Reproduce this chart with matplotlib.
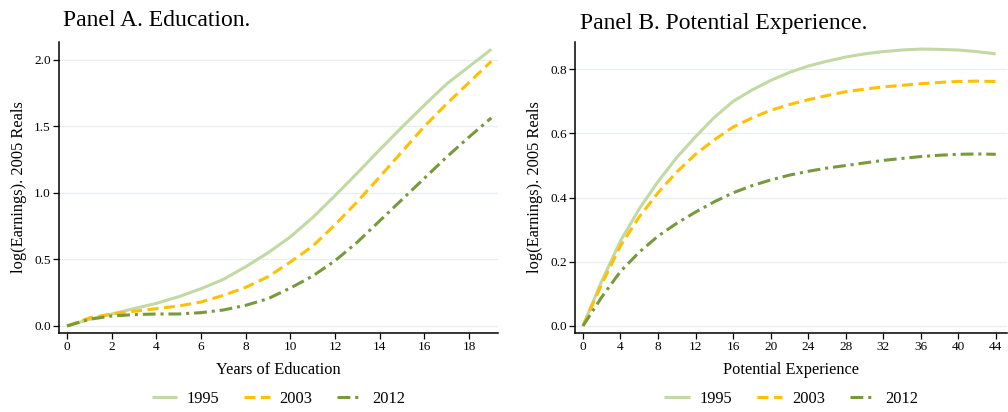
import matplotlib
matplotlib.use("Agg")
import matplotlib.pyplot as plt
import numpy as np

plt.rcParams['font.family'] = ['Liberation Serif', 'DejaVu Serif']

# Panel A: Years of education
educ_years = list(range(0, 20))
educ_1995 = [0.0, 0.05, 0.09, 0.13, 0.17, 0.22, 0.28, 0.35, 0.445, 0.55, 0.67, 0.815, 0.98, 1.15, 1.325, 1.495, 1.66, 1.82, 1.95, 2.08]
educ_2003 = [0.0, 0.06, 0.09, 0.11, 0.13, 0.15, 0.18, 0.23, 0.29, 0.37, 0.48, 0.60, 0.76, 0.935, 1.12, 1.31, 1.50, 1.67, 1.83, 1.99]
educ_2012 = [0.0, 0.05, 0.075, 0.085, 0.09, 0.09, 0.10, 0.12, 0.155, 0.205, 0.285, 0.375, 0.49, 0.63, 0.79, 0.95, 1.11, 1.27, 1.42, 1.565]

# Panel B: Potential experience
exp_years = list(range(0, 45, 2))
exp_1995 = [0.0, 0.14, 0.265, 0.365, 0.45, 0.525, 0.59, 0.65, 0.70, 0.735, 0.765, 0.79, 0.81, 0.825, 0.838, 0.848, 0.855, 0.86, 0.863, 0.862, 0.86, 0.855, 0.848]
exp_2003 = [0.0, 0.13, 0.25, 0.34, 0.415, 0.48, 0.535, 0.58, 0.62, 0.648, 0.672, 0.69, 0.705, 0.718, 0.73, 0.738, 0.745, 0.75, 0.755, 0.759, 0.762, 0.763, 0.762]
exp_2012 = [0.0, 0.09, 0.17, 0.23, 0.28, 0.32, 0.355, 0.387, 0.415, 0.437, 0.455, 0.47, 0.482, 0.492, 0.50, 0.508, 0.516, 0.522, 0.528, 0.532, 0.535, 0.536, 0.535]

years = ['1995', '2003', '2012']
colors = ['#c2d9a3', '#ffc000', '#789a3c']
styles = ['-', (0, (3.6, 1.8)), (0, (4.2, 1.6, 1.0, 1.6))]

fig = plt.figure(figsize=(10.08, 4.12), dpi=100)
axA = fig.add_axes([59/1008, 79/412, 439/1008, 291/412])
axB = fig.add_axes([575/1008, 79/412, 432/1008, 291/412])

def style_ax(ax):
    for s in ['top', 'right']:
        ax.spines[s].set_visible(False)
    for s in ['left', 'bottom']:
        ax.spines[s].set_color('black')
        ax.spines[s].set_linewidth(1.1)
    ax.tick_params(axis='both', direction='out', length=4, width=0.9, labelsize=9.5, colors='black', pad=2)
    ax.yaxis.grid(True, color='#e6eff0', linewidth=0.9)
    ax.set_axisbelow(True)

for ax, xs, series in [(axA, educ_years, [educ_1995, educ_2003, educ_2012]),
                       (axB, exp_years, [exp_1995, exp_2003, exp_2012])]:
    style_ax(ax)
    for lab, ys, c, ls in zip(years, series, colors, styles):
        ax.plot(xs, ys, color=c, linestyle=ls, linewidth=2.2, label=lab, solid_capstyle='butt', dash_capstyle='butt')
    ax.set_ylabel('log(Earnings). 2005 Reals', fontsize=11.8, labelpad=5)
    ax.legend(loc='center', bbox_to_anchor=(0.5, -0.227), ncol=3, frameon=False,
              fontsize=11.8, handlelength=1.55, columnspacing=1.5, handletextpad=0.6)

axA.set_xlim(-0.36, 19.3)
axA.set_ylim(-0.053, 2.135)
axA.set_xticks(np.arange(0, 19, 2))
axA.set_yticks([0.0, 0.5, 1.0, 1.5, 2.0])
axA.set_yticklabels(['0.0', '0.5', '1.0', '1.5', '2.0'])
axA.set_xlabel('Years of Education', fontsize=11.8, labelpad=6)

axB.set_xlim(-0.85, 45.2)
axB.set_ylim(-0.022, 0.885)
axB.set_xticks(np.arange(0, 45, 4))
axB.set_yticks([0.0, 0.2, 0.4, 0.6, 0.8])
axB.set_yticklabels(['0.0', '0.2', '0.4', '0.6', '0.8'])
axB.set_xlabel('Potential Experience', fontsize=11.8, labelpad=6)

fig.text(63/1008, 1 - 20/412, 'Panel A. Education.', fontsize=17, ha='left', va='center')
fig.text(580/1008, 1 - 23/412, 'Panel B. Potential Experience.', fontsize=17, ha='left', va='center')

fig.savefig('out.png', dpi=100)
